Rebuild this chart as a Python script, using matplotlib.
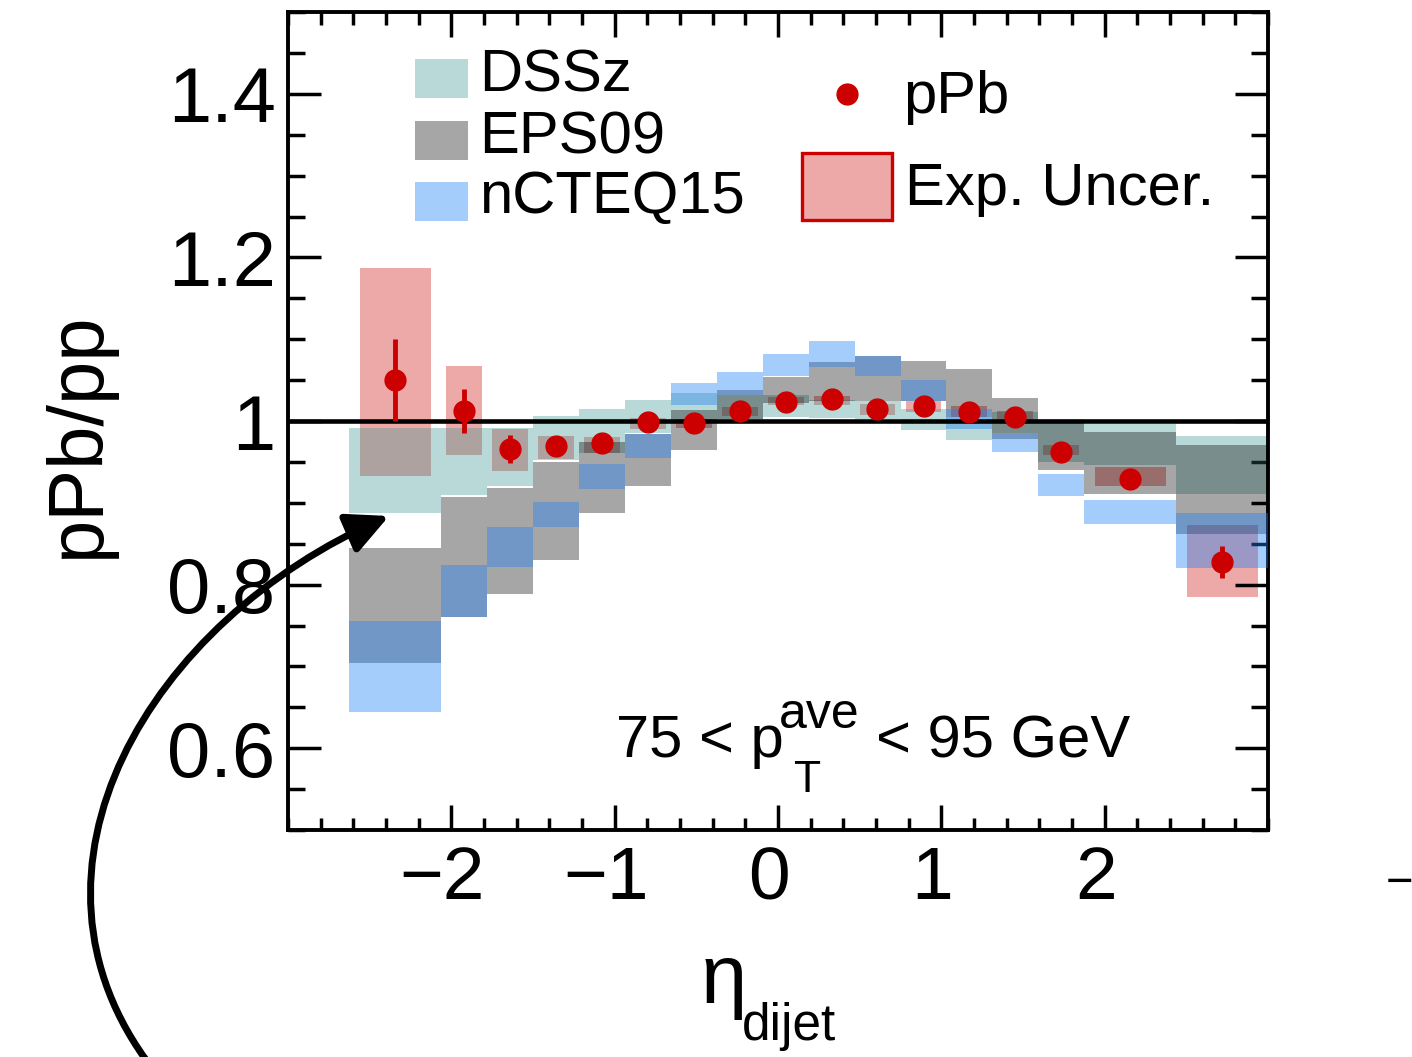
import matplotlib
matplotlib.use("Agg")
import matplotlib.pyplot as plt
import matplotlib.transforms as mtransforms
from matplotlib.patches import Rectangle, FancyArrowPatch
from matplotlib.path import Path
from matplotlib.ticker import MultipleLocator, FixedLocator

plt.rcParams["font.family"] = ["Liberation Sans", "DejaVu Sans"]

# theory bins in eta_dijet
edges = [-2.625, -2.0625, -1.78125, -1.5, -1.21875, -0.9375, -0.65625, -0.375,
         -0.09375, 0.1875, 0.46875, 0.75, 1.03125, 1.3125, 1.59375, 1.875, 2.4375, 3.0]

dssz_lo = [0.887, 0.910, 0.921, 0.952, 0.961, 0.985, 0.998, 0.999, 1.005, 1.004,
           1.003, 0.989, 0.977, 0.985, 0.950, 0.946, 0.911]
dssz_hi = [0.991, 0.991, 0.991, 1.0065, 1.0146, 1.0256, 1.034, 1.032, 1.032, 1.026,
           1.024, 1.0146, 1.005, 1.011, 1.003, 0.996, 0.982]
eps_lo = [0.704, 0.761, 0.788, 0.830, 0.887, 0.920, 0.964, 1.003, 1.022, 1.024,
          1.024, 1.025, 1.005, 0.978, 0.940, 0.911, 0.862]
eps_hi = [0.845, 0.907, 0.918, 0.950, 0.974, 0.984, 1.013, 1.038, 1.054, 1.072,
          1.080, 1.073, 1.064, 1.028, 0.997, 0.986, 0.971]
ncteq_lo = [0.644, 0.761, 0.822, 0.870, 0.917, 0.955, 1.0195, 1.032, 1.055, 1.066,
            1.055, 1.025, 0.990, 0.9626, 0.908, 0.874, 0.820]
ncteq_hi = [0.756, 0.824, 0.870, 0.901, 0.948, 0.984, 1.046, 1.060, 1.082, 1.098,
            1.080, 1.050, 1.0146, 0.985, 0.935, 0.904, 0.888]

# pPb data points
eta = [-2.344, -1.922, -1.641, -1.359, -1.078, -0.797, -0.516, -0.234, 0.047,
       0.328, 0.609, 0.891, 1.172, 1.453, 1.734, 2.156, 2.719]
ratio = [1.050, 1.012, 0.966, 0.9695, 0.973, 0.999, 0.998, 1.0126, 1.0236,
         1.0266, 1.0148, 1.0183, 1.0114, 1.0045, 0.9626, 0.929, 0.8277]
stat = [0.050, 0.027, 0.017, 0.008, 0.006, 0.005, 0.005, 0.004, 0.004,
        0.004, 0.004, 0.004, 0.004, 0.004, 0.005, 0.006, 0.020]
sys_lo = [0.933, 0.958, 0.939, 0.954, 0.961, 0.990, 0.991, 1.0065, 1.0195,
          1.0195, 1.0073, 1.0114, 1.0045, 1.001, 0.9585, 0.921, 0.785]
sys_hi = [1.187, 1.067, 0.990, 0.982, 0.980, 1.004, 1.002, 1.017, 1.029,
          1.031, 1.0207, 1.0248, 1.018, 1.012, 0.971, 0.944, 0.873]
sys_w = [0.434, 0.22, 0.22, 0.22, 0.22, 0.22, 0.22, 0.22, 0.22,
         0.22, 0.22, 0.22, 0.22, 0.22, 0.22, 0.434, 0.434]

teal = (66/255, 152/255, 150/255)
grey = (0, 0, 0)
blue = (32/255, 130/255, 245/255)
red = "#cc0000"

W, H = 1412, 1057
fig = plt.figure(figsize=(W / 100, H / 100), dpi=100)
ax = fig.add_axes([288 / W, 227 / H, 980 / W, 818 / H])


def axpos(px, py):
    # pixel position of the picture -> axes fraction
    return (px - 288) / 980, (830 - py) / 818


widths = [b - a for a, b in zip(edges[:-1], edges[1:])]

# exp. uncertainty boxes (under the bands)
ax.bar(eta, [h - l for l, h in zip(sys_lo, sys_hi)], width=sys_w, bottom=sys_lo,
       color=(0.8, 0, 0), alpha=0.34, lw=0, zorder=1)

for lo, hi, c, a, z in [(dssz_lo, dssz_hi, teal, 0.37, 2),
                        (eps_lo, eps_hi, grey, 0.35, 3),
                        (ncteq_lo, ncteq_hi, blue, 0.40, 4)]:
    ax.bar(edges[:-1], [h - l for l, h in zip(lo, hi)], width=widths, bottom=lo,
           align="edge", color=c, alpha=a, lw=0, zorder=z)

ax.axhline(1.0, color="k", lw=3.3, zorder=5)

ax.errorbar(eta, ratio, yerr=stat, fmt="o", color=red, ms=15, elinewidth=3.5,
            capsize=0, zorder=7)

ax.set_xlim(-3, 3)
ax.set_ylim(0.5, 1.5)
ax.xaxis.set_major_locator(FixedLocator([-2, -1, 0, 1, 2]))
ax.xaxis.set_minor_locator(MultipleLocator(0.2))
ax.yaxis.set_major_locator(FixedLocator([0.6, 0.8, 1.0, 1.2, 1.4]))
ax.yaxis.set_minor_locator(MultipleLocator(0.05))
ax.set_xticklabels(["\u22122", "\u22121", "0", "1", "2"])
ax.set_yticklabels(["0.6", "0.8", "1", "1.2", "1.4"])
ax.tick_params(which="both", direction="in", top=True, right=True, width=2.5)
ax.tick_params(axis="x", which="major", length=18, pad=11, labelsize=54)
ax.tick_params(axis="x", which="minor", length=9)
ax.tick_params(axis="y", which="major", length=24, pad=9, labelsize=56)
ax.tick_params(axis="y", which="minor", length=12)
for s in ax.spines.values():
    s.set_linewidth(2.8)

shift = mtransforms.ScaledTranslation(-0.09, 0, fig.dpi_scale_trans)
for lbl in ax.get_xticklabels():
    lbl.set_transform(lbl.get_transform() + shift)

ax.set_ylabel("pPb/pp", fontsize=56, va="center", ha="center")
ax.yaxis.set_label_coords(*axpos(78, 435))
ax.set_xlabel("\u03b7", fontsize=60, va="baseline", ha="center")
ax.xaxis.set_label_coords(*axpos(724, 1003))
ax.text(*axpos(742, 1040), "dijet", transform=ax.transAxes, fontsize=37,
        va="baseline", clip_on=False)

# 75 < pT^ave < 95 GeV, pieces placed like the original sub/superscripts
tr = ax.transAxes
ax.text(*axpos(616, 757), "75 < p", transform=tr, fontsize=43, va="baseline", zorder=8)
ax.text(*axpos(779, 728), "ave", transform=tr, fontsize=36, va="baseline", zorder=8)
ax.text(*axpos(794, 792), "T", transform=tr, fontsize=32, va="baseline", zorder=8)
ax.text(*axpos(876, 757), "< 95 GeV", transform=tr, fontsize=43, va="baseline", zorder=8)

# legend drawn by hand in axes coordinates
for y0, c, a, name, yb in [(98, teal, 0.37, "DSSz", 92),
                           (160, grey, 0.35, "EPS09", 153),
                           (221, blue, 0.40, "nCTEQ15", 213)]:
    ax.add_patch(Rectangle(axpos(415, y0), 53 / 980, 39 / 818, transform=tr,
                           facecolor=c, alpha=a, lw=0, zorder=8))
    ax.text(*axpos(479, yb), name, transform=tr, fontsize=43, va="baseline", zorder=8)
ax.plot(*axpos(847, 94), "o", color=red, ms=15, transform=tr, zorder=8)
ax.text(*axpos(903, 113), "pPb", transform=tr, fontsize=43, va="baseline", zorder=8)
ax.add_patch(Rectangle(axpos(802, 220), 90 / 980, 67 / 818, transform=tr,
                       facecolor=(0.8, 0, 0, 0.34), edgecolor=red, lw=2.4, zorder=8))
ax.text(*axpos(905, 205), "Exp. Uncer.", transform=tr, fontsize=43, va="baseline",
        zorder=8)

# curved arrow coming from outside the panel
pts = [(152, 1068), (0, 870), (150, 620), (389, 516)]
verts = [(x / W, 1 - y / H) for x, y in pts]
arrow = FancyArrowPatch(path=Path(verts, [Path.MOVETO, Path.CURVE4, Path.CURVE4, Path.CURVE4]),
                        arrowstyle="-|>,head_length=0.63,head_width=0.31",
                        mutation_scale=40, lw=5, color="k",
                        transform=fig.transFigure, zorder=10)
fig.add_artist(arrow)

# piece of the neighbouring panel's tick label
fig.text(1386 / W, 1 - 896 / H, "\u2212", fontsize=34, va="baseline")

fig.savefig("out.png", dpi=100)
